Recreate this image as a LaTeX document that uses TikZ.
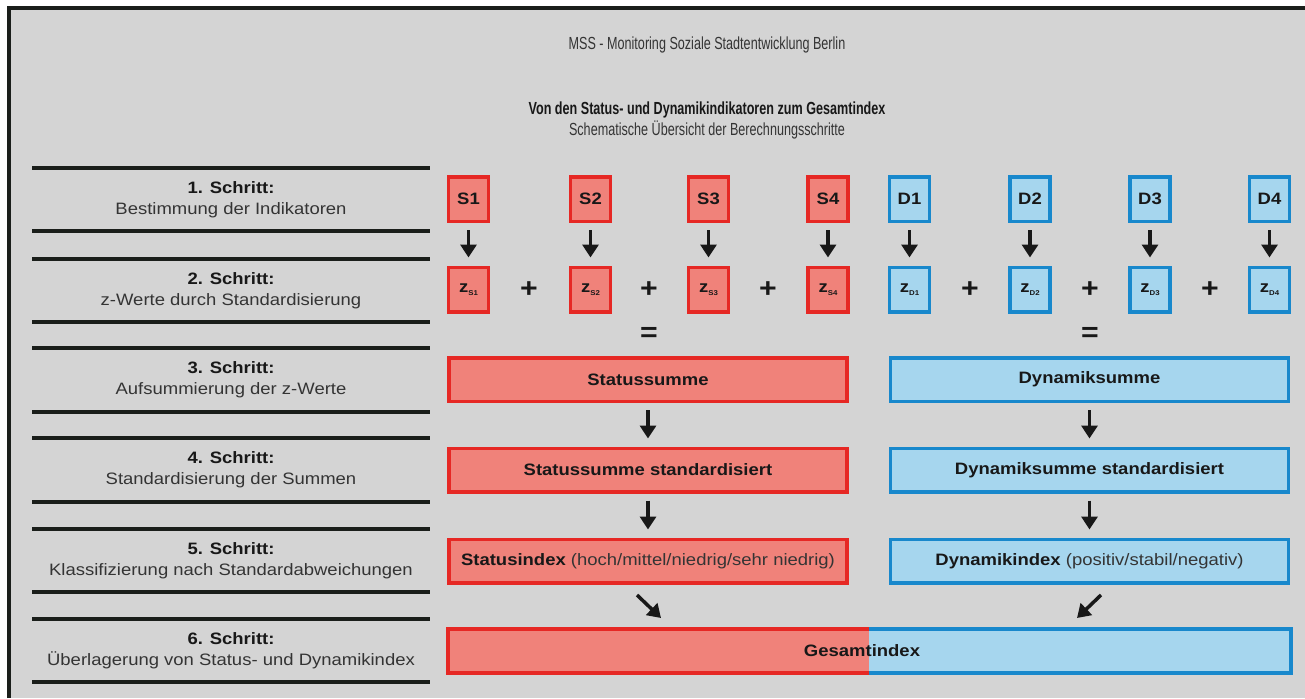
\documentclass[tikz,border=0pt]{standalone}
\usepackage{fontspec}
\setmainfont{Liberation Sans}[FakeStretch=1.12]
\newfontfamily\headfont{Liberation Sans}[FakeStretch=0.72]
\usepackage{xcolor}
\usetikzlibrary{arrows.meta, positioning}
\definecolor{panel}{RGB}{212,212,212}
\definecolor{frame}{RGB}{26,30,26}
\definecolor{statusfill}{RGB}{240,130,122}
\definecolor{statusline}{RGB}{230,40,36}
\definecolor{dynfill}{RGB}{166,214,238}
\definecolor{dynline}{RGB}{24,136,204}
\definecolor{ink}{RGB}{24,24,24}
\definecolor{softink}{RGB}{52,52,52}
\newcommand{\bodysize}{\fontsize{16.5}{21}\selectfont}
\newcommand{\zval}[1]{z\raisebox{-2.5pt}{\fontsize{7}{8}\selectfont #1}}
\tikzset{
    indicator/.style={rectangle, minimum width=40pt, minimum height=44.5pt, inner sep=0pt, line width=3.5pt, text centered, font=\bodysize\bfseries, text=ink},
    status/.style={indicator, fill=statusfill, draw=statusline},
    dynamic/.style={indicator, fill=dynfill, draw=dynline},
    sumbox/.style={rectangle, minimum width=398pt, minimum height=43.5pt, inner sep=0pt, line width=3.5pt, text centered, font=\bodysize\bfseries, text=ink},
    statussum/.style={sumbox, fill=statusfill, draw=statusline},
    dynsum/.style={sumbox, fill=dynfill, draw=dynline},
    steplabel/.style={align=center, font=\bodysize, text=softink},
    steprule/.style={line width=4pt, color=frame},
    headline/.style={font=\headfont\fontsize{17.5}{20}\selectfont, text=softink},
    operator/.style={font=\fontsize{27}{27}\selectfont\bfseries, text=ink, inner sep=0pt},
    flow/.style={-{Triangle[width=16pt,length=13pt]}, line width=3.5pt, color=ink}
}

\begin{document}
\begin{tikzpicture}[
    x=1pt, y=-1pt,
    halfbox/.style={rectangle, minimum width=422pt, minimum height=43.5pt, inner sep=0pt}
]
    \useasboundingbox (0,0) rectangle (1305,698);
    % Panel and frame
    \fill[panel] (9,8) rectangle (1305,698);
    \draw[line width=4pt, color=frame] (9,698) -- (9,8) -- (1305,8);

    % Headings
    \node[headline] (mss) at (707,45) {MSS - Monitoring Soziale Stadtentwicklung Berlin};
    \node[headline, font=\headfont\fontsize{17.5}{20}\selectfont\bfseries, text=ink] (title) at (707,110) {Von den Status- und Dynamikindikatoren zum Gesamtindex};
    \node[headline] (subtitle) at (707,130) {Schematische Übersicht der Berechnungsschritte};

    % Step column
    \draw[steprule] (32,168) -- (430,168);
    \draw[steprule] (32,231) -- (430,231);
    \draw[steprule] (32,259) -- (430,259);
    \draw[steprule] (32,322) -- (430,322);
    \draw[steprule] (32,348) -- (430,348);
    \draw[steprule] (32,412) -- (430,412);
    \draw[steprule] (32,438) -- (430,438);
    \draw[steprule] (32,502) -- (430,502);
    \draw[steprule] (32,529) -- (430,529);
    \draw[steprule] (32,592) -- (430,592);
    \draw[steprule] (32,619) -- (430,619);
    \draw[steprule] (32,682) -- (430,682);
    \node[steplabel] (step1) at (231,199.5) {\textbf{\color{ink}1. Schritt:}\\Bestimmung der Indikatoren};
    \node[steplabel] (step2) at (231,290.5) {\textbf{\color{ink}2. Schritt:}\\z-Werte durch Standardisierung};
    \node[steplabel] (step3) at (231,380) {\textbf{\color{ink}3. Schritt:}\\Aufsummierung der z-Werte};
    \node[steplabel] (step4) at (231,470) {\textbf{\color{ink}4. Schritt:}\\Standardisierung der Summen};
    \node[steplabel] (step5) at (231,560.5) {\textbf{\color{ink}5. Schritt:}\\Klassifizierung nach Standardabweichungen};
    \node[steplabel] (step6) at (231,650.5) {\textbf{\color{ink}6. Schritt:}\\Überlagerung von Status- und Dynamikindex};

    % Indicators
    \node[status] (s1) at (468.5,199) {S1};
    \node[status] (s2) at (590.5,199) {S2};
    \node[status] (s3) at (708.5,199) {S3};
    \node[status] (s4) at (828,199) {S4};
    \node[dynamic] (d1) at (909.5,199) {D1};
    \node[dynamic] (d2) at (1030,199) {D2};
    \node[dynamic] (d3) at (1150,199) {D3};
    \node[dynamic] (d4) at (1269.5,199) {D4};

    % z-values
    \node[status] (zs1) at (468.5,289.5) {\zval{S1}};
    \node[status] (zs2) at (590.5,289.5) {\zval{S2}};
    \node[status] (zs3) at (708.5,289.5) {\zval{S3}};
    \node[status] (zs4) at (828,289.5) {\zval{S4}};
    \node[dynamic] (zd1) at (909.5,289.5) {\zval{D1}};
    \node[dynamic] (zd2) at (1030,289.5) {\zval{D2}};
    \node[dynamic] (zd3) at (1150,289.5) {\zval{D3}};
    \node[dynamic] (zd4) at (1269.5,289.5) {\zval{D4}};
    \node[operator] (ps1) at (529,290) {+};
    \node[operator] (ps2) at (649,290) {+};
    \node[operator] (ps3) at (768,290) {+};
    \node[operator] (pd1) at (970,290) {+};
    \node[operator] (pd2) at (1090,290) {+};
    \node[operator] (pd3) at (1210,290) {+};
    \node[operator] (eqs) at (649,334) {=};
    \node[operator] (eqd) at (1090,334) {=};

    % Sums and indices
    \node[statussum] (ssum) at (648,379.5) {Statussumme};
    \node[statussum] (sstd) at (648,470) {Statussumme standardisiert};
    \node[statussum] (sidx) at (648,561) {Statusindex \textmd{\color{softink}(hoch/mittel/niedrig/sehr niedrig)}};
    \node[dynsum] (dsum) at (1089.5,379.5) {Dynamiksumme};
    \node[dynsum] (dstd) at (1089.5,470) {Dynamiksumme standardisiert};
    \node[dynsum] (didx) at (1089.5,561) {Dynamikindex \textmd{\color{softink}(positiv/stabil/negativ)}};

    % Overall index
    \node[halfbox, fill=statusfill] (gesl) at (659,651) {};
    \node[halfbox, fill=dynfill] (gesr) at (1080,651) {};
    \draw[line width=3.5pt, color=statusline] (gesl.north east) -- (gesl.north west) -- (gesl.south west) -- (gesl.south east);
    \draw[line width=3.5pt, color=dynline] (gesr.north west) -- (gesr.north east) -- (gesr.south east) -- (gesr.south west);
    \node[font=\bodysize\bfseries, text=ink] (gesamt) at (862,651) {Gesamtindex};

    % Arrows
    \draw[flow, shorten <=7pt, shorten >=8pt] (s1) -- (zs1);
    \draw[flow, shorten <=7pt, shorten >=8pt] (s2) -- (zs2);
    \draw[flow, shorten <=7pt, shorten >=8pt] (s3) -- (zs3);
    \draw[flow, shorten <=7pt, shorten >=8pt] (s4) -- (zs4);
    \draw[flow, shorten <=7pt, shorten >=8pt] (d1) -- (zd1);
    \draw[flow, shorten <=7pt, shorten >=8pt] (d2) -- (zd2);
    \draw[flow, shorten <=7pt, shorten >=8pt] (d3) -- (zd3);
    \draw[flow, shorten <=7pt, shorten >=8pt] (d4) -- (zd4);
    \draw[flow, shorten <=7pt, shorten >=8pt] (ssum) -- (sstd);
    \draw[flow, shorten <=7pt, shorten >=8pt] (sstd) -- (sidx);
    \draw[flow, shorten <=7pt, shorten >=8pt] (dsum) -- (dstd);
    \draw[flow, shorten <=7pt, shorten >=8pt] (dstd) -- (didx);
    \coordinate (sfrom) at (637,595);
    \coordinate (sto) at (661,618);
    \coordinate (dfrom) at (1101,595);
    \coordinate (dto) at (1077,618);
    \draw[flow] (sfrom) -- (sto);
    \draw[flow] (dfrom) -- (dto);
\end{tikzpicture}
\end{document}
